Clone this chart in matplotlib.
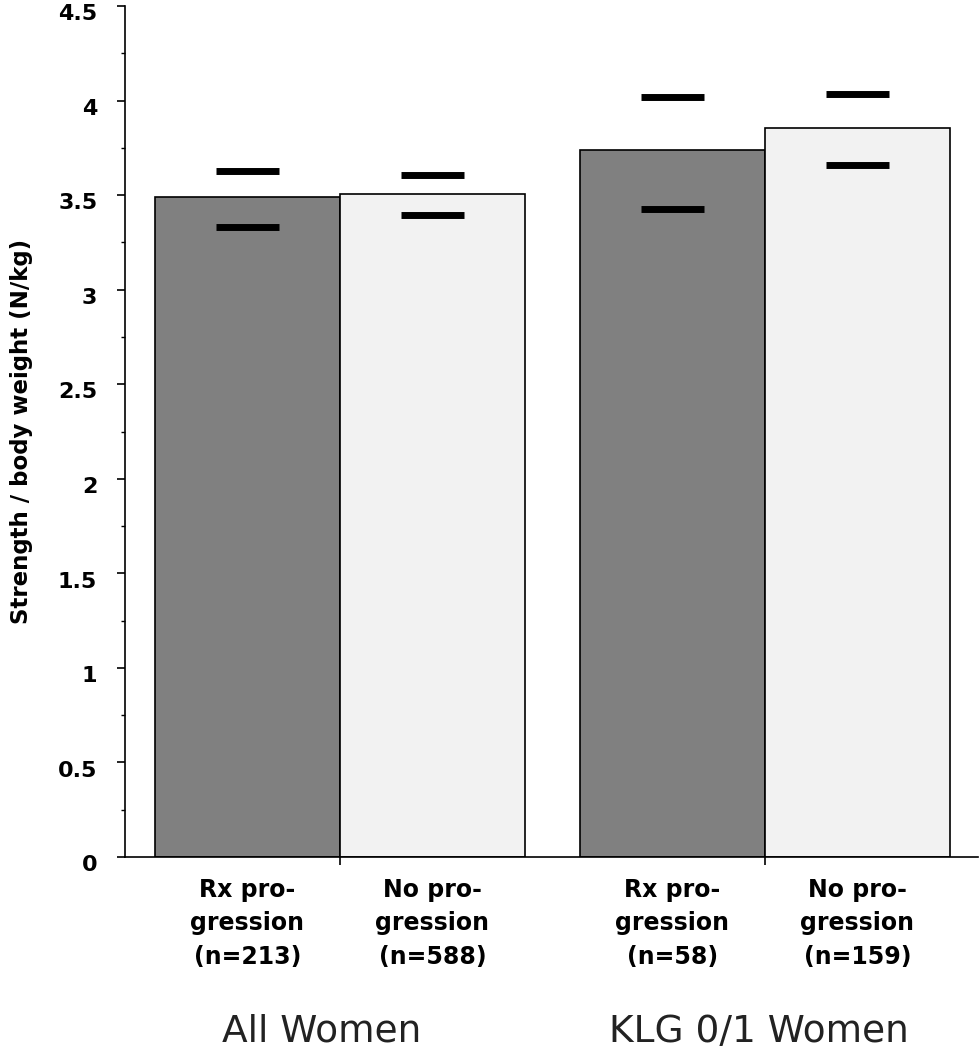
import matplotlib.pyplot as plt
import matplotlib.transforms as mtransforms

####################################################################################################

categories = ['Rx pro-\ngression\n(n=213)', 'No pro-\ngression\n(n=588)',
              'Rx pro-\ngression\n(n=58)', 'No pro-\ngression\n(n=159)']
groups = ['All Women', 'KLG 0/1 Women']
means = [3.49, 3.505, 3.74, 3.855]
ci_upper = [3.628, 3.607, 4.019, 4.035]
ci_lower = [3.332, 3.395, 3.427, 3.659]
bar_colors = ['#808080', '#f2f2f2', '#808080', '#f2f2f2']

####################################################################################################

gap = 0.297
positions = [0, 1, 2 + gap, 3 + gap]

figure = plt.figure(figsize=(9.8, 10.5), dpi=100)
ax = figure.add_axes([125/980, 1 - 857/1050, 853/980, 851/1050])

ax.bar(positions, means, width=1.0, color=bar_colors, edgecolor='black', linewidth=1.2, zorder=2)
ax.hlines(ci_upper, [p - 0.17 for p in positions], [p + 0.17 for p in positions],
          colors='black', linewidth=5, zorder=3)
ax.hlines(ci_lower, [p - 0.17 for p in positions], [p + 0.17 for p in positions],
          colors='black', linewidth=5, zorder=3)

ax.set_xlim(-0.662, 3.949)
ax.set_ylim(0, 4.5)

for side in ('top', 'right'):
    ax.spines[side].set_visible(False)
for side in ('left', 'bottom'):
    ax.spines[side].set_linewidth(1.2)

ax.set_yticks([0, 0.5, 1, 1.5, 2, 2.5, 3, 3.5, 4, 4.5])
ax.set_yticklabels(['0', '0.5', '1', '1.5', '2', '2.5', '3', '3.5', '4', '4.5'],
                   fontsize=16, fontweight='bold')
ax.set_yticks([0.25 + 0.5 * i for i in range(9)], minor=True)
ax.tick_params(axis='y', which='major', direction='out', length=6, width=1.2, pad=14)
ax.tick_params(axis='y', which='minor', direction='out', length=3, width=1.0)

# labels in the original sit a few pixels below their ticks
shift = mtransforms.ScaledTranslation(0, -4.5/72, figure.dpi_scale_trans)
for label in ax.get_yticklabels():
    label.set_transform(label.get_transform() + shift)

ax.set_xticks(positions)
ax.set_xticklabels(categories, fontsize=17, fontweight='bold')
for label in ax.get_xticklabels():
    label.set_linespacing(1.5)
ax.set_xticks([0.5, 2.5 + gap], minor=True)
ax.tick_params(axis='x', which='major', length=0, pad=15)
ax.tick_params(axis='x', which='minor', direction='out', length=6, width=1.2)

ax.set_ylabel('Strength / body weight (N/kg)', fontsize=16.5, fontweight='bold', labelpad=18)

group_centers = [(positions[0] + positions[1]) / 2 - 0.1, (positions[2] + positions[3]) / 2 - 0.03]
for center, name in zip(group_centers, groups):
    ax.text(center, -0.217, name, transform=ax.get_xaxis_transform(), fontsize=27,
            ha='center', va='baseline', color='#222222')

figure.savefig('out.png', dpi=100)
